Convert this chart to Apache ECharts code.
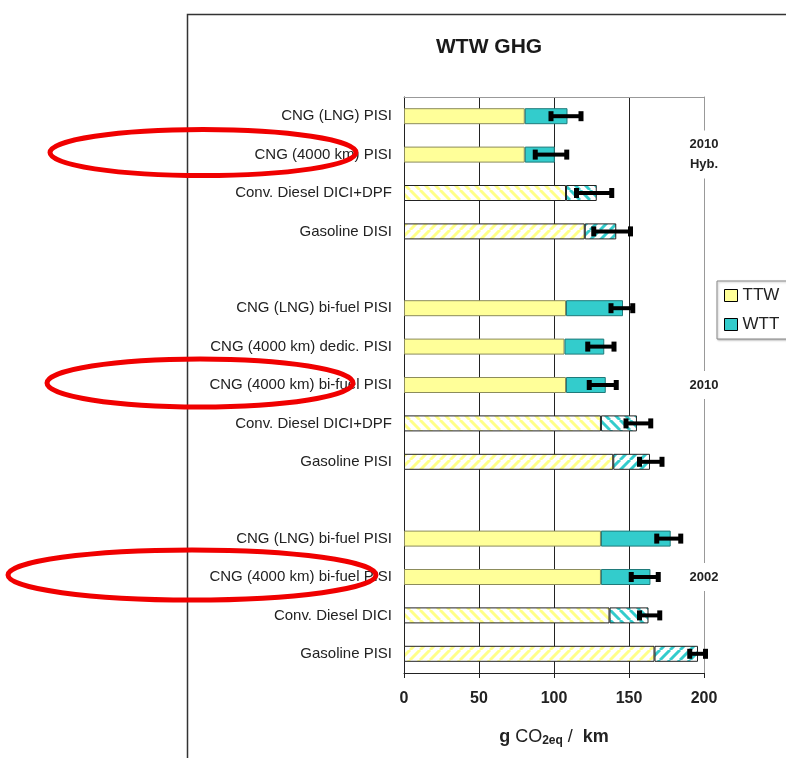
<!DOCTYPE html>
<html><head><meta charset="utf-8">
<script src="https://cdn.jsdelivr.net/npm/echarts@6/dist/echarts.min.js"></script>
<style>html,body{margin:0;padding:0;background:#fff}#c{width:786px;height:758px}</style>
</head><body><div id="c"></div>
<script>
// ---- data ----
const categories = [
  'CNG (LNG) PISI', 'CNG (4000 km) PISI', 'Conv. Diesel DICI+DPF', 'Gasoline DISI', '',
  'CNG (LNG) bi-fuel PISI', 'CNG (4000 km) dedic. PISI', 'CNG (4000 km) bi-fuel PISI', 'Conv. Diesel DICI+DPF', 'Gasoline PISI', ' ',
  'CNG (LNG) bi-fuel PISI', 'CNG (4000 km) bi-fuel PISI', 'Conv. Diesel DICI', 'Gasoline PISI'
];
const ttw = [80.5, 80.5, 108, 120.5, null, 108, 107, 108, 131.3, 139.5, null, 131.3, 131.3, 137, 167];
const wtt = [28.5, 20, 20.5, 21, null, 38, 26.5, 26.5, 24, 24.5, null, 46.5, 33, 26, 29];
const errLow  = [98, 87.5, 115, 126.5, null, 138, 122.5, 123.5, 148, 157, null, 168.5, 151.5, 157, 190.5];
const errHigh = [118, 108.5, 138.5, 151, null, 152.5, 140, 141.5, 164.5, 172, null, 184.5, 169.5, 170.5, 201];
const xTicks = [0, 50, 100, 150, 200];
const groupLabels = ['2010\nHyb.', '2010', '2002'];
const groupLabelRows = [1, 7, 12];
const circledRows = [1, 7, 12];

// ---- styling ----
const FONT = '"Liberation Sans", Arial, sans-serif';
function hatch(color, dir) {
  const c = document.createElement('canvas');
  c.width = 10; c.height = 10;
  const g = c.getContext('2d');
  g.fillStyle = '#fff'; g.fillRect(0, 0, 10, 10);
  g.strokeStyle = color; g.lineWidth = 3;
  g.beginPath();
  if (dir === '/') {
    for (const s of [0, 10, 20]) { g.moveTo(s, 0); g.lineTo(s - 10, 10); }
  } else {
    for (const s of [-10, 0, 10]) { g.moveTo(s, 0); g.lineTo(s + 10, 10); }
  }
  g.stroke();
  return { image: c, repeat: 'repeat' };
}
const YEL = '#FFFF99', CYA = '#33CCCC';
const pat = {
  ttw: { '/': hatch('#FFFF88', '/'), '\\': hatch('#FFFF88', '\\') },
  wtt: { '/': hatch(CYA, '/'), '\\': hatch(CYA, '\\') }
};
function hatchDir(name) {
  if (name.startsWith('Gasoline')) return '/';
  if (name.startsWith('Conv. Diesel')) return '\\';
  return null;
}
function item(v, i, part) {
  if (v == null) return '-';
  const d = hatchDir(categories[i]);
  if (!d) return v;
  return { value: v, itemStyle: { color: pat[part][d], borderColor: '#222', borderWidth: 1 } };
}

const chart = echarts.init(document.getElementById('c'));
chart.setOption({
  animation: false,
  backgroundColor: '#fff',
  textStyle: { fontFamily: FONT },
  title: {
    text: 'WTW GHG', left: 436, top: 37, padding: 0,
    textStyle: { fontSize: 21, fontWeight: 'bold', color: '#1a1a1a', fontFamily: FONT }
  },
  legend: {
    data: ['TTW', 'WTT'], orient: 'vertical', left: 717, top: 281, icon: 'rect',
    padding: [6, 10, 6, 7], itemGap: 12, itemWidth: 13, itemHeight: 12,
    backgroundColor: '#fff', borderColor: '#888', borderWidth: 1,
    shadowColor: 'rgba(0,0,0,0.25)', shadowBlur: 2, shadowOffsetX: 1, shadowOffsetY: 1,
    itemStyle: { borderColor: '#000', borderWidth: 1 },
    textStyle: { fontSize: 17, color: '#222', fontFamily: FONT }
  },
  grid: { left: 404, right: 82, top: 97, bottom: 85, containLabel: false },
  xAxis: [{
    type: 'value', min: xTicks[0], max: xTicks[xTicks.length - 1], interval: xTicks[1] - xTicks[0],
    position: 'bottom',
    axisLine: { show: true, onZero: false, lineStyle: { color: '#222' } },
    axisTick: { show: true, length: 5, lineStyle: { color: '#222' } },
    axisLabel: { fontSize: 16, fontWeight: 'bold', color: '#222', margin: 18, fontFamily: FONT },
    splitLine: { show: true, showMinLine: false, showMaxLine: false, lineStyle: { color: '#222', width: 1 } },
    name: '{b|g} CO{sub|2eq} /  {b|km}', nameLocation: 'middle', nameGap: 54,
    nameTextStyle: {
      fontSize: 18, fontWeight: 'normal', color: '#222', fontFamily: FONT,
      rich: {
        b: { fontSize: 18, fontWeight: 'bold', color: '#222', fontFamily: FONT },
        sub: { fontSize: 12, fontWeight: 'bold', color: '#222', padding: [8, 0, 0, 0], fontFamily: FONT }
      }
    }
  }, {
    type: 'value', min: xTicks[0], max: xTicks[xTicks.length - 1], position: 'top',
    axisLine: { show: true, onZero: false, lineStyle: { color: '#999' } },
    axisTick: { show: false }, axisLabel: { show: false }, splitLine: { show: false }
  }],
  yAxis: [{
    type: 'category', data: categories, inverse: true,
    axisLine: { show: true, onZero: false, lineStyle: { color: '#222' } },
    axisTick: { show: false },
    axisLabel: { fontSize: 15, color: '#222', margin: 12, fontFamily: FONT },
    splitLine: { show: false }
  }, {
    type: 'category', data: categories, inverse: true, position: 'right',
    axisLine: { show: true, onZero: false, lineStyle: { color: '#999' } },
    axisTick: { show: false }, axisLabel: { show: false }, splitLine: { show: false }
  }],
  series: [{
    name: 'TTW', type: 'bar', stack: 'tot', barWidth: 16,
    itemStyle: { color: YEL, borderColor: '#8c8c5c', borderWidth: 1 },
    data: ttw.map((v, i) => item(v, i, 'ttw'))
  }, {
    name: 'WTT', type: 'bar', stack: 'tot', barWidth: 16,
    itemStyle: { color: CYA, borderColor: '#1f7a7a', borderWidth: 1 },
    data: wtt.map((v, i) => item(v, i, 'wtt'))
  }, {
    name: 'err', type: 'custom', z: 10,
    encode: { y: 0, x: [1, 2] },
    data: categories.map((c, i) => errLow[i] == null ? null : [i, errLow[i], errHigh[i]]).filter(Boolean),
    renderItem: function (params, api) {
      const r = api.value(0);
      const a = api.coord([api.value(1), r]);
      const b = api.coord([api.value(2), r]);
      return {
        type: 'group', children: [
          { type: 'line', shape: { x1: a[0], y1: a[1], x2: b[0], y2: b[1] }, style: { stroke: '#000', lineWidth: 4 } },
          { type: 'rect', shape: { x: a[0] - 2.5, y: a[1] - 5, width: 5, height: 10 }, style: { fill: '#000' } },
          { type: 'rect', shape: { x: b[0] - 2.5, y: b[1] - 5, width: 5, height: 10 }, style: { fill: '#000' } }
        ]
      };
    }
  }]
});

// ---- annotations placed from axis positions ----
const xRight = chart.convertToPixel({ xAxisIndex: 0 }, xTicks[xTicks.length - 1]);
const graphics = [{
  type: 'polyline', z: 50, silent: true,
  shape: { points: [[187.5, 758], [187.5, 14.5], [786, 14.5]] },
  style: { stroke: '#333', lineWidth: 1.5, fill: null }
}];
groupLabels.forEach((t, k) => {
  const y = chart.convertToPixel({ yAxisIndex: 0 }, groupLabelRows[k]);
  graphics.push({
    type: 'text', z: 60, x: xRight, y: y, silent: true,
    style: {
      text: t, fontSize: 13, fontWeight: 'bold', fill: '#222', fontFamily: FONT,
      align: 'center', verticalAlign: 'middle', lineHeight: 20,
      backgroundColor: '#fff', padding: [4, 1]
    }
  });
});
const ell = [[203, 153, 23], [200, 153, 24], [192, 184, 25]];
circledRows.forEach((row, k) => {
  const y = chart.convertToPixel({ yAxisIndex: 0 }, row) - 2;
  graphics.push({
    type: 'ellipse', z: 80, silent: true,
    shape: { cx: ell[k][0], cy: y, rx: ell[k][1], ry: ell[k][2] },
    style: { stroke: '#f00000', lineWidth: 5, fill: null }
  });
});
chart.setOption({ graphic: graphics });
</script>
</body></html>
